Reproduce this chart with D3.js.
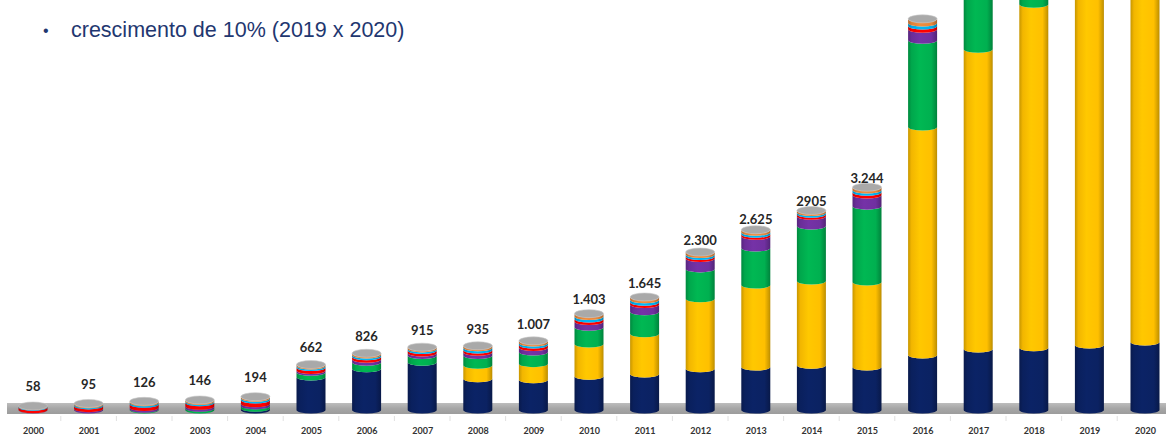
<!DOCTYPE html>
<html>
<head>
<meta charset="utf-8">
<script src="https://cdn.jsdelivr.net/npm/d3@7/dist/d3.min.js"></script>
<style>
  html, body { margin: 0; padding: 0; background: #ffffff; }
  svg { display: block; }
</style>
</head>
<body>
<script>
// ---- data ----
const years = ["2000","2001","2002","2003","2004","2005","2006","2007","2008","2009","2010",
               "2011","2012","2013","2014","2015","2016","2017","2018","2019","2020"];
const navy      = [0,  0,  0,  0, 25, 480, 600, 695, 455, 440, 490, 525, 600, 625, 650, 626, 800, 888, 907, 946, 990];
const yellow    = [0,  0,  0,  0,  0,   0,   0,   0, 195, 235, 470, 585,1020,1195,1230,1237,3320,4367,5003,5800,6500];
const green     = [0,  0, 10, 25, 35,  70,  95, 100, 145, 170, 245, 320, 435, 540, 800,1106,1266,1350,1300,1350,1400];
const purple    = [5, 20, 25, 30, 30,  25,  45,  35,  45,  65,  85, 105, 150, 170, 140, 161, 160, 170, 180, 190, 200];
const red       = [35,40, 50, 50, 55,  45,  35,  35,  35,  35,  35,  35,  30,  30,  30,  40,  45,  45,  45,  45,  45];
const lightBlue = [10,15, 20, 20, 25,  20,  25,  25,  30,  30,  35,  35,  30,  30,  25,  35,  45,  45,  45,  45,  45];
const orange    = [8, 20, 21, 21, 24,  22,  26,  25,  30,  32,  43,  40,  35,  35,  30,  39,  60,  60,  60,  60,  60];
const valueLabels = ["58","95","126","146","194","662","826","915","935","1.007","1.403",
                     "1.645","2.300","2.625","2905","3.244","","","","",""];
const seriesNames = ["navy","yellow","green","purple","red","lightBlue","orange"];
const seriesColors = ["#0b2262","#ffc000","#00b050","#7030a0","#ff0000","#00b0f0","#e8873a"];
const title = "crescimento de 10% (2019 x 2020)";

// ---- layout ----
const W = 1166, H = 440;
const svg = d3.select("body").append("svg").attr("width", W).attr("height", H);
const defs = svg.append("defs");

const x = d3.scalePoint().domain(years).range([33, 1145]);
const y = d3.scaleLinear().domain([0, 6000]).range([410, -2]);
const barW = 29, rx = barW / 2, ry = 3.5;

// gradients for cylinder shading
seriesColors.concat(["#a6a6a6"]).forEach((c, i) => {
  const g = defs.append("linearGradient").attr("id", "g" + i).attr("x1", "0%").attr("x2", "100%");
  const base = d3.color(c);
  [[0, base.darker(0.7)], [0.12, base.darker(0.15)], [0.4, base.brighter(0.12)],
   [0.8, base], [0.95, base.darker(0.6)], [1, base.darker(0.9)]]
    .forEach(([o, col]) => g.append("stop").attr("offset", o).attr("stop-color", col.formatHex()));
});
const floorGrad = defs.append("linearGradient").attr("id", "floorG").attr("x1", 0).attr("x2", 0).attr("y1", 0).attr("y2", 1);
floorGrad.append("stop").attr("offset", 0).attr("stop-color", "#bdbdbd");
floorGrad.append("stop").attr("offset", 0.5).attr("stop-color", "#a6a6a6");
floorGrad.append("stop").attr("offset", 1).attr("stop-color", "#9c9c9c");

// title
svg.append("text").attr("x", 43).attr("y", 36).attr("font-family", "Liberation Sans, Arial, sans-serif")
  .attr("font-size", 16).attr("fill", "#1f3770").text("•");
svg.append("text").attr("x", 71).attr("y", 37).attr("font-family", "Liberation Sans, Arial, sans-serif")
  .attr("font-size", 21.5).attr("fill", "#1f3770").text(title);

// floor
svg.append("rect").attr("x", 7).attr("y", 403).attr("width", W - 7).attr("height", 11).attr("fill", "url(#floorG)");

// category separator ticks
const step = x.step();
svg.append("g").selectAll("line").data(years.slice(1)).join("line")
  .attr("x1", d => x(d) - step / 2).attr("x2", d => x(d) - step / 2)
  .attr("y1", 416).attr("y2", 421).attr("stroke", "#e0e0e0").attr("stroke-width", 1);

// x axis labels
const xAxis = d3.axisBottom(x).tickSize(0).tickPadding(0);
const ax = svg.append("g").attr("transform", "translate(0,428)").call(xAxis);
ax.select(".domain").remove();
ax.selectAll("text").attr("font-family", "Lato, Liberation Sans, sans-serif")
  .attr("font-size", 9).attr("font-weight", "bold").attr("fill", "#333333");

// stacked data
const table = years.map((yr, i) => ({
  year: yr, navy: navy[i], yellow: yellow[i], green: green[i], purple: purple[i],
  red: red[i], lightBlue: lightBlue[i], orange: orange[i]
}));
const stack = d3.stack().keys(seriesNames)(table);

function segPath(cx, y0, y1) {
  const l = cx - rx, r = cx + rx;
  return `M${l},${y1} A${rx},${ry} 0 0 0 ${r},${y1} L${r},${y0} A${rx},${ry} 0 0 1 ${l},${y0} Z`;
}

const bars = svg.append("g");
stack.forEach((layer, si) => {
  bars.append("g").selectAll("path")
    .data(layer.filter(d => d[1] - d[0] > 0))
    .join("path")
    .attr("d", d => segPath(x(d.data.year), y(d[0]), y(d[1])))
    .attr("fill", `url(#g${si})`);
});

// top caps
const totals = table.map(d => seriesNames.reduce((s, k) => s + d[k], 0));
bars.append("g").selectAll("ellipse").data(years).join("ellipse")
  .attr("cx", d => x(d)).attr("cy", (d, i) => y(totals[i]))
  .attr("rx", rx).attr("ry", ry + 0.5)
  .attr("fill", "#a9a9a9").attr("stroke", "#c8c8c8").attr("stroke-width", 0.6);

// value labels
svg.append("g").selectAll("text").data(years).join("text")
  .attr("x", d => x(d))
  .attr("y", (d, i) => y(totals[i]) - Math.max(4, 15 - 3.5 * totals[i] / 1000))
  .attr("text-anchor", "middle")
  .attr("font-family", "Lato, Liberation Sans, sans-serif")
  .attr("font-size", 13).attr("font-weight", "bold").attr("fill", "#262626")
  .text((d, i) => valueLabels[i]);
</script>
</body>
</html>
